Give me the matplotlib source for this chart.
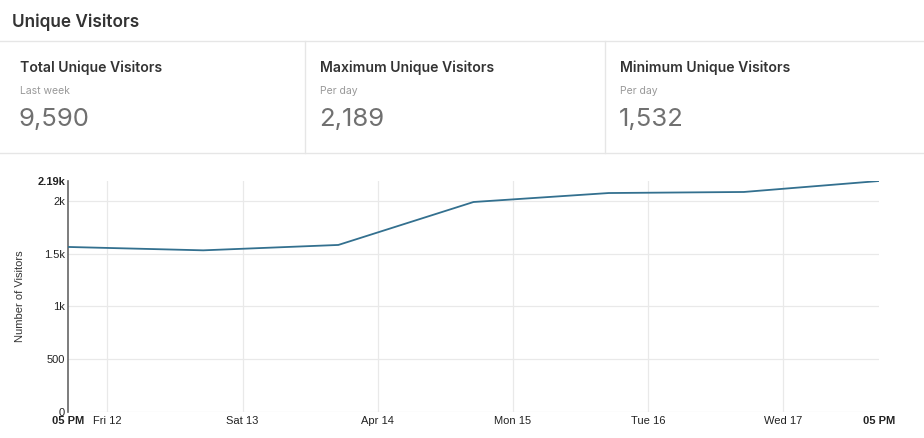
import datetime as dt
import matplotlib.pyplot as plt
from matplotlib.lines import Line2D

# ---- data ----
days = [dt.datetime(2019, 4, d, 17) for d in range(11, 18)]
visitors = [1564, 1532, 1583, 1990, 2075, 2085, 2189]

card_titles = ['Total Unique Visitors', 'Maximum Unique Visitors', 'Minimum Unique Visitors']
card_subs = ['Last week', 'Per day', 'Per day']
card_values = ['9,590', '2,189', '1,532']

ytick_vals = [0, 500, 1000, 1500, 2000, 2189]
ytick_labels = ['0', '500', '1k', '1.5k', '2k', '2.19k']
midnights = [dt.datetime(2019, 4, d) for d in range(12, 18)]
mid_labels = ['Fri 12', 'Sat 13', 'Apr 14', 'Mon 15', 'Tue 16', 'Wed 17']

W, H = 924, 438
fig = plt.figure(figsize=(W / 100, H / 100), dpi=100)
fig.patch.set_facecolor('white')

def px(x, y):
    return x / W, 1 - y / H

# ---- header and cards ----
fig.text(*px(12, 22), 'Unique Visitors', family='Inter', fontsize=12.4, weight='semibold',
         color='#333333', va='center')
sep = '#e6e6e6'
fig.add_artist(Line2D([0, 1], [1 - 41 / H] * 2, color=sep, lw=1))
fig.add_artist(Line2D([0, 1], [1 - 153 / H] * 2, color=sep, lw=1))
for xs in (305, 605):
    fig.add_artist(Line2D([xs / W] * 2, [1 - 153 / H, 1 - 41 / H], color=sep, lw=1))

for i, x0 in enumerate([20, 320, 620]):
    fig.text(*px(x0, 68), card_titles[i], family='Inter', fontsize=10.1, weight='semibold',
             color='#333333', va='center')
    fig.text(*px(x0, 91), card_subs[i], family='Inter', fontsize=7.5, color='#999999', va='center')
    fig.text(*px(x0 - 1, 120), card_values[i], family='Inter', fontsize=18.5, color='#707070',
             va='center')

# ---- chart ----
ax = fig.add_axes([68 / W, 1 - 412 / H, (879 - 68) / W, (412 - 181) / H])
ax.plot(days, visitors, color='#33708f', lw=1.3, zorder=3)
ax.set_xlim(days[0], days[-1])
ax.set_ylim(0, 2189)

ax.set_yticks(ytick_vals)
ax.set_yticklabels(ytick_labels)
xt = [days[0]] + midnights + [days[-1]]
ax.set_xticks(xt)
ax.set_xticklabels(['05 PM'] + mid_labels + ['05 PM'])

for lbl in ax.get_xticklabels() + ax.get_yticklabels():
    lbl.set_family('Liberation Sans')
    lbl.set_fontsize(8)
    lbl.set_color('#222222')
ax.get_xticklabels()[0].set_weight('bold')
ax.get_xticklabels()[-1].set_weight('bold')
ax.get_yticklabels()[-1].set_weight('bold')

ax.tick_params(length=0, pad=3)
ax.tick_params(axis='y', pad=2)

for v in ytick_vals[:-1]:
    ax.axhline(v, color='#e9e9e9', lw=0.9, zorder=1)
for m in midnights:
    ax.axvline(m, color='#e9e9e9', lw=0.9, zorder=1)

for s in ['top', 'right', 'bottom']:
    ax.spines[s].set_visible(False)
ax.spines['left'].set_color('#666666')
ax.spines['left'].set_linewidth(1.2)

ax.set_ylabel('Number of Visitors', family='Liberation Sans', fontsize=8, color='#333333',
              labelpad=9)

fig.savefig('out.png', dpi=100)
